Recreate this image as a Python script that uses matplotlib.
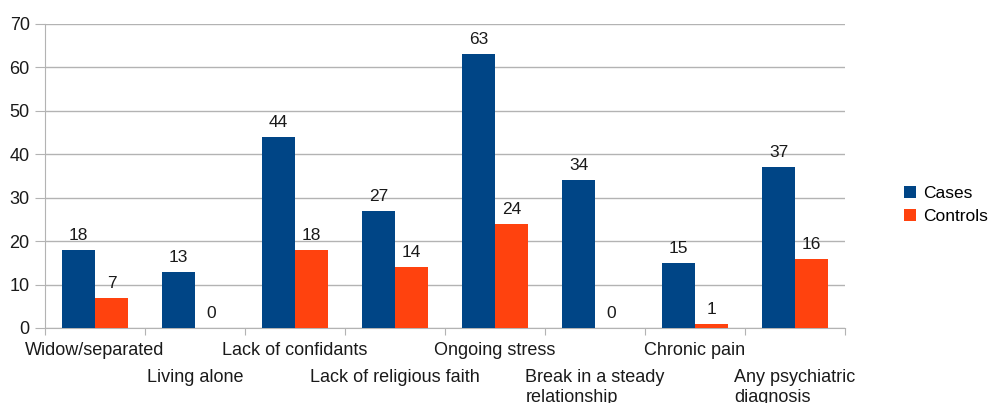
import numpy as np
import matplotlib.pyplot as plt

# risk factors, cases vs controls
categories = ['Widow/separated', 'Living alone', 'Lack of confidants',
              'Lack of religious faith', 'Ongoing stress',
              'Break in a steady\nrelationship', 'Chronic pain',
              'Any psychiatric\ndiagnosis']
cases = [18, 13, 44, 27, 63, 34, 15, 37]
controls = [7, 0, 18, 14, 24, 0, 1, 16]

plt.rcParams['font.family'] = ['Liberation Sans', 'DejaVu Sans']
blue = '#004586'
orange = '#ff420e'
grey = '#b3b3b3'

fig = plt.figure(figsize=(9.91, 4.03), dpi=100)
ax = fig.add_axes([45/991, 1-328/403, 800/991, 304/403])

x = np.arange(len(categories))
w = 0.33
b1 = ax.bar(x - w/2, cases, w, color=blue, label='Cases', zorder=3)
b2 = ax.bar(x + w/2, controls, w, color=orange, label='Controls', zorder=3)

for bars in (b1, b2):
    for r in bars:
        ax.annotate(str(int(r.get_height())),
                    (r.get_x() + r.get_width()/2, r.get_height()),
                    xytext=(0, 7), textcoords='offset pixels',
                    ha='center', va='bottom', fontsize=12.5, color='#1a1a1a')

ax.set_xlim(-0.5, len(categories) - 0.5)
ax.set_ylim(0, 70)
ax.set_yticks(range(0, 71, 10))
ax.yaxis.grid(True, color=grey, linewidth=1, zorder=0)
ax.tick_params(axis='y', length=7, color=grey, labelsize=13, pad=4,
               labelcolor='#1a1a1a')

# tick marks between categories, labels staggered on two rows
ax.set_xticks(np.arange(len(categories) + 1) - 0.5)
ax.set_xticklabels([])
ax.tick_params(axis='x', length=5, color=grey)
for i, lab in enumerate(categories):
    dy = -14 if i % 2 == 0 else -41
    ax.annotate(lab, (i, 0), xycoords=('data', 'axes fraction'),
                xytext=(0, dy), textcoords='offset pixels',
                ha='center', va='top', multialignment='left',
                fontsize=13, color='#1a1a1a', annotation_clip=False)

for s in ['top', 'right']:
    ax.spines[s].set_visible(False)
for s in ['left', 'bottom']:
    ax.spines[s].set_color(grey)

fig.legend(handles=[b1, b2], loc='center left',
           bbox_to_anchor=(892/991, 1-205/403), frameon=False,
           fontsize=12.5, handlelength=0.7, handleheight=0.7,
           handletextpad=0.4, labelspacing=0.5, borderpad=0.2)

fig.savefig('out.png', dpi=100)
